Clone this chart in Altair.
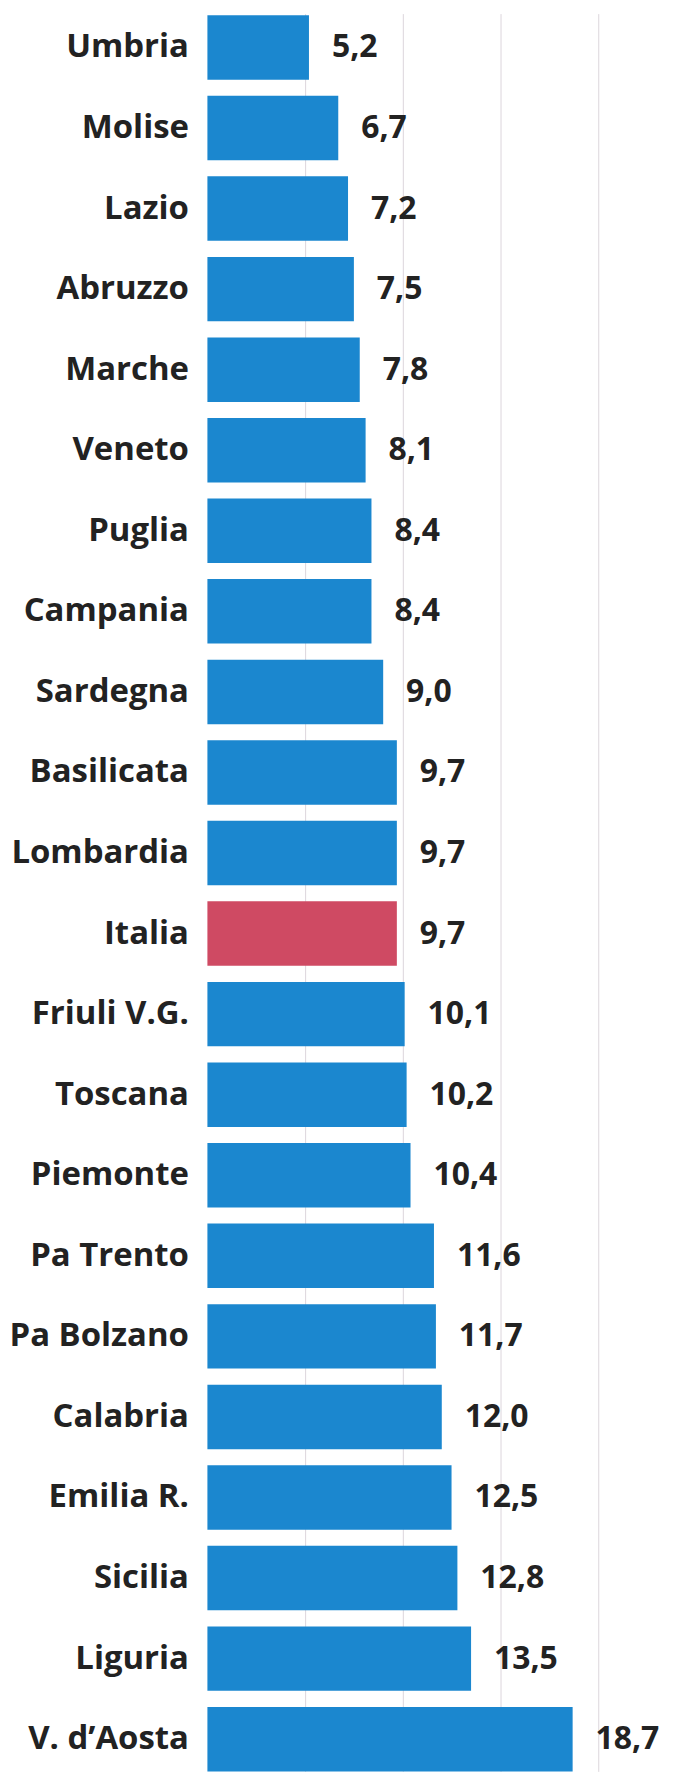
import altair as alt
import pandas as pd

regions = ["Umbria", "Molise", "Lazio", "Abruzzo", "Marche", "Veneto", "Puglia",
           "Campania", "Sardegna", "Basilicata", "Lombardia", "Italia",
           "Friuli V.G.", "Toscana", "Piemonte", "Pa Trento", "Pa Bolzano",
           "Calabria", "Emilia R.", "Sicilia", "Liguria", "V. d\u2019Aosta"]
values = [5.2, 6.7, 7.2, 7.5, 7.8, 8.1, 8.4, 8.4, 9.0, 9.7, 9.7, 9.7,
          10.1, 10.2, 10.4, 11.6, 11.7, 12.0, 12.5, 12.8, 13.5, 18.7]
highlight = "Italia"
grid_values = [5, 10, 15, 20]

df = pd.DataFrame({"regione": regions, "valore": values})
df["tipo"] = ["it" if r == highlight else "reg" for r in regions]

FONT = "Open Sans"
FS = 32

y_enc = alt.Y("regione:N", sort=regions,
              scale=alt.Scale(paddingInner=0.2, paddingOuter=0.01, align=1),
              axis=alt.Axis(title=None, domain=False, ticks=False,
                            labelFont=FONT, labelFontSize=33, labelFontWeight="bold",
                            labelColor="#222222", labelPadding=19, labelLimit=300,
                            minExtent=198, maxExtent=198))
x_enc = alt.X("valore:Q", scale=alt.Scale(domain=[0, 24.3], nice=False, zero=True),
              axis=alt.Axis(title=None, labels=False, ticks=False, domain=False,
                            grid=True, values=grid_values, gridColor="#dcd6dc",
                            gridWidth=1, minExtent=0, maxExtent=0))

base = alt.Chart(df)

bars = base.mark_bar().encode(
    y=y_enc,
    x=x_enc,
    color=alt.Color("tipo:N", scale=alt.Scale(domain=["reg", "it"],
                                              range=["#1b87cf", "#cf4a63"]),
                    legend=None),
)

labels = base.transform_calculate(
    lab="replace(format(datum.valore, '.1f'), '.', ',')"
).mark_text(align="left", baseline="middle", dx=23, font=FONT, fontSize=FS,
            fontWeight="bold", color="#222222").encode(
    y=alt.Y("regione:N", sort=regions),
    x=alt.X("valore:Q"),
    text="lab:N",
)

chart = (bars + labels).properties(
    width=476, height=1763,
    padding={"left": 0, "top": 3, "right": 0, "bottom": 0},
).configure_view(strokeWidth=0)

chart.save("out.html", embed_options={"renderer": "svg", "actions": False})
